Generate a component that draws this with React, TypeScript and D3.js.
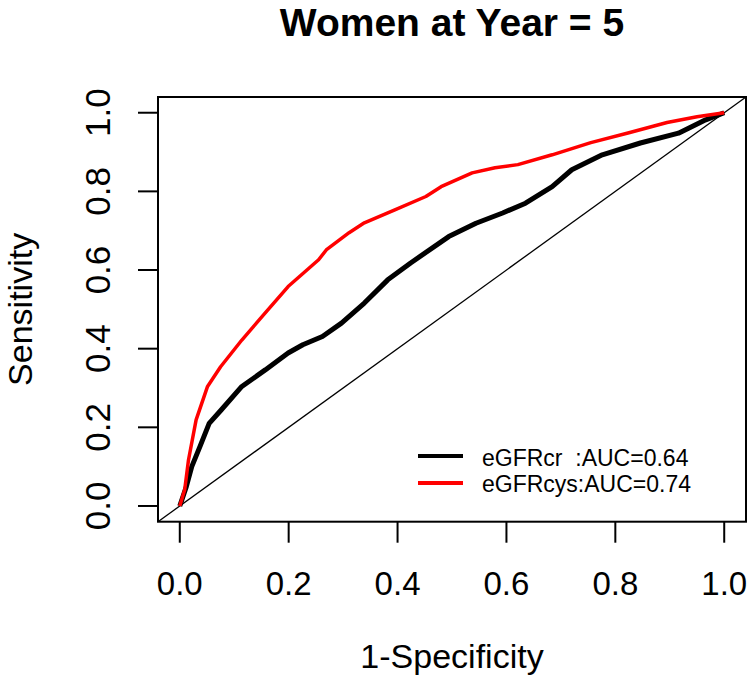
import React from "react";
import * as d3 from "d3";

// Data
const xTicks = [0, 0.2, 0.4, 0.6, 0.8, 1.0];
const yTicks = [0, 0.2, 0.4, 0.6, 0.8, 1.0];

// eGFRcr (black), AUC = 0.64
const crFpr = [0, 0.012, 0.022, 0.037, 0.054, 0.076, 0.114, 0.157, 0.199, 0.226, 0.262, 0.297, 0.339, 0.382, 0.424, 0.494, 0.544, 0.593, 0.635, 0.684, 0.72, 0.776, 0.846, 0.916, 0.966, 1];
const crTpr = [0, 0.049, 0.1, 0.151, 0.21, 0.244, 0.304, 0.346, 0.389, 0.41, 0.431, 0.465, 0.516, 0.575, 0.618, 0.685, 0.719, 0.745, 0.77, 0.812, 0.855, 0.893, 0.923, 0.948, 0.982, 1];

// eGFRcys (red), AUC = 0.74
const cysFpr = [0, 0.009, 0.016, 0.03, 0.051, 0.075, 0.114, 0.157, 0.199, 0.255, 0.269, 0.311, 0.339, 0.395, 0.452, 0.48, 0.537, 0.579, 0.621, 0.684, 0.755, 0.825, 0.895, 0.95, 1];
const cysTpr = [0, 0.041, 0.117, 0.219, 0.304, 0.354, 0.422, 0.491, 0.558, 0.626, 0.651, 0.695, 0.72, 0.753, 0.787, 0.812, 0.847, 0.86, 0.868, 0.893, 0.924, 0.949, 0.975, 0.99, 1];

const legendLabels = ["eGFRcr  :AUC=0.64", "eGFRcys:AUC=0.74"];
const legendColors = ["#000000", "#ff0000"];

const title = "Women at Year = 5";
const xLabel = "1-Specificity";
const yLabel = "Sensitivity";

const W = 750;
const H = 686;
const FONT = "'Liberation Sans', Arial, Helvetica, sans-serif";

export default function App() {
  const x = d3.scaleLinear().domain([-0.04, 1.04]).range([158, 746]);
  const y = d3.scaleLinear().domain([-0.04, 1.04]).range([521.7, 97]);

  const line = d3
    .line<[number, number]>()
    .x((d) => x(d[0]))
    .y((d) => y(d[1]));

  const crPts = crFpr.map((v, i) => [v, crTpr[i]] as [number, number]);
  const cysPts = cysFpr.map((v, i) => [v, cysTpr[i]] as [number, number]);

  const [x0, x1] = x.domain();
  const [y0, y1] = y.domain();

  return (
    <svg
      width={W}
      height={H}
      viewBox={`0 0 ${W} ${H}`}
      style={{ position: "absolute", left: 0, top: 0, background: "#fff" }}
      fontFamily={FONT}
    >
      <rect x={0} y={0} width={W} height={H} fill="#fff" />
      {/* title */}
      <text x={(x(x0) + x(x1)) / 2} y={36} textAnchor="middle" fontSize={39} fontWeight="bold" fill="#000">
        {title}
      </text>

      {/* diagonal reference */}
      <line x1={x(x0)} y1={y(y0)} x2={x(x1)} y2={y(y1)} stroke="#000" strokeWidth={1.3} />

      {/* ROC curves */}
      <path d={line(crPts) || ""} fill="none" stroke={legendColors[0]} strokeWidth={5} strokeLinejoin="round" />
      <path d={line(cysPts) || ""} fill="none" stroke={legendColors[1]} strokeWidth={3.5} strokeLinejoin="round" />

      {/* box */}
      <rect
        x={x(x0)}
        y={y(y1)}
        width={x(x1) - x(x0)}
        height={y(y0) - y(y1)}
        fill="none"
        stroke="#000"
        strokeWidth={2}
      />

      {/* x axis */}
      {xTicks.map((t) => (
        <g key={"x" + t}>
          <line x1={x(t)} x2={x(t)} y1={y(y0)} y2={y(y0) + 21} stroke="#000" strokeWidth={2} />
          <text x={x(t)} y={595} textAnchor="middle" fontSize={33} fill="#000">
            {t.toFixed(1)}
          </text>
        </g>
      ))}
      <text x={(x(x0) + x(x1)) / 2} y={668} textAnchor="middle" fontSize={34} fill="#000">
        {xLabel}
      </text>

      {/* y axis */}
      {yTicks.map((t) => (
        <g key={"y" + t}>
          <line x1={x(x0)} x2={x(x0) - 20} y1={y(t)} y2={y(t)} stroke="#000" strokeWidth={2} />
          <text
            transform={`translate(110,${y(t)}) rotate(-90)`}
            textAnchor="middle"
            fontSize={35}
            fill="#000"
          >
            {t.toFixed(1)}
          </text>
        </g>
      ))}
      <text
        transform={`translate(32,${(y(y0) + y(y1)) / 2}) rotate(-90)`}
        textAnchor="middle"
        fontSize={34}
        fill="#000"
      >
        {yLabel}
      </text>

      {/* legend */}
      {legendLabels.map((lab, i) => (
        <g key={lab}>
          <line x1={418} x2={463} y1={456 + i * 27} y2={456 + i * 27} stroke={legendColors[i]} strokeWidth={4} />
          <text x={482} y={466 + i * 26} fontSize={23} fill="#000" style={{ whiteSpace: "pre" }}>
            {lab}
          </text>
        </g>
      ))}
    </svg>
  );
}
